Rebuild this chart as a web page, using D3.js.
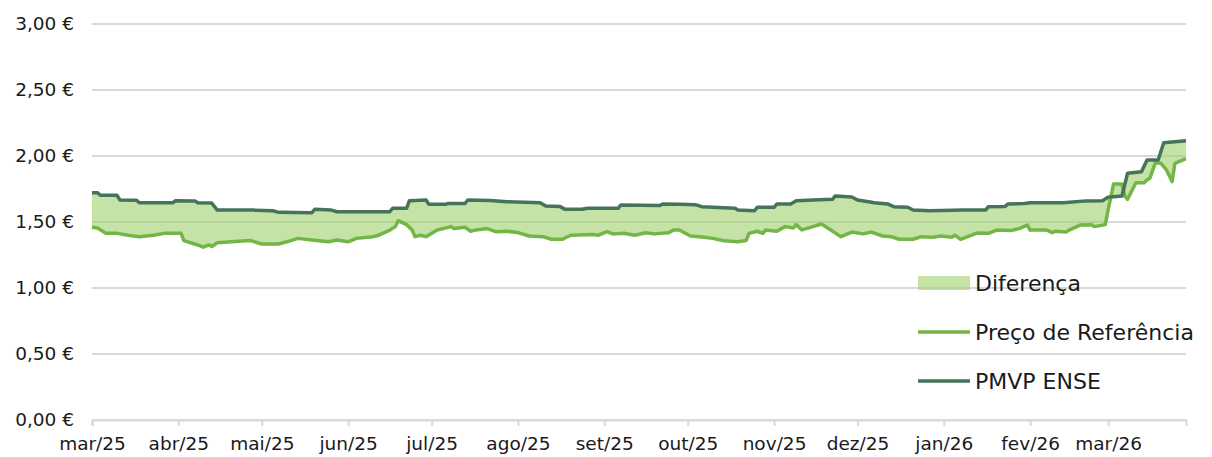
<!DOCTYPE html>
<html>
<head>
<meta charset="utf-8">
<script src="https://cdn.jsdelivr.net/npm/d3@7"></script>
<style>
  body { margin: 0; background: #fff; }
  text { font-family: "DejaVu Sans", sans-serif; fill: #1a1a1a; }
</style>
</head>
<body>
<svg id="chart" width="1212" height="457"></svg>
<script>
// PMVP ENSE (dark line)
const pmvpDates = ['2025-03-01','2025-03-03','2025-03-04','2025-03-10','2025-03-11','2025-03-17','2025-03-18','2025-03-30','2025-03-31','2025-04-07','2025-04-08','2025-04-13','2025-04-15','2025-04-28','2025-05-05','2025-05-07','2025-05-19','2025-05-20','2025-05-26','2025-05-28','2025-06-16','2025-06-17','2025-06-22','2025-06-23','2025-06-29','2025-06-30','2025-07-06','2025-07-07','2025-07-13','2025-07-14','2025-07-22','2025-07-28','2025-08-09','2025-08-11','2025-08-16','2025-08-18','2025-08-24','2025-08-26','2025-09-06','2025-09-07','2025-09-21','2025-09-22','2025-09-28','2025-10-04','2025-10-06','2025-10-18','2025-10-19','2025-10-25','2025-10-26','2025-11-01','2025-11-02','2025-11-07','2025-11-09','2025-11-15','2025-11-22','2025-11-23','2025-11-29','2025-12-01','2025-12-05','2025-12-07','2025-12-12','2025-12-14','2025-12-19','2025-12-21','2025-12-27','2026-01-08','2026-01-16','2026-01-17','2026-01-23','2026-01-24','2026-01-30','2026-02-01','2026-02-13','2026-02-21','2026-02-27','2026-03-01','2026-03-06','2026-03-08','2026-03-13','2026-03-15','2026-03-19','2026-03-21','2026-03-29']
const pmvpValues = [1.722,1.722,1.702,1.702,1.667,1.665,1.646,1.646,1.661,1.660,1.646,1.644,1.590,1.590,1.585,1.573,1.571,1.596,1.590,1.578,1.578,1.604,1.604,1.661,1.667,1.634,1.634,1.640,1.640,1.667,1.662,1.654,1.646,1.621,1.618,1.596,1.596,1.604,1.604,1.629,1.625,1.636,1.634,1.630,1.616,1.604,1.591,1.586,1.611,1.611,1.636,1.636,1.661,1.667,1.672,1.697,1.690,1.667,1.654,1.646,1.636,1.616,1.612,1.591,1.586,1.591,1.590,1.616,1.618,1.636,1.640,1.646,1.646,1.660,1.661,1.687,1.697,1.869,1.880,1.970,1.970,2.100,2.116]

// Preço de Referência (light line)
const refDates = ['2025-03-01','2025-03-03','2025-03-06','2025-03-10','2025-03-14','2025-03-18','2025-03-23','2025-03-27','2025-04-02','2025-04-03','2025-04-08','2025-04-10','2025-04-12','2025-04-13','2025-04-15','2025-04-20','2025-04-27','2025-05-01','2025-05-07','2025-05-10','2025-05-14','2025-05-19','2025-05-25','2025-05-28','2025-06-01','2025-06-04','2025-06-10','2025-06-12','2025-06-16','2025-06-18','2025-06-19','2025-06-22','2025-06-24','2025-06-25','2025-06-27','2025-06-29','2025-07-03','2025-07-08','2025-07-09','2025-07-13','2025-07-15','2025-07-17','2025-07-21','2025-07-24','2025-07-28','2025-08-01','2025-08-05','2025-08-10','2025-08-13','2025-08-17','2025-08-20','2025-08-28','2025-08-30','2025-09-02','2025-09-04','2025-09-08','2025-09-12','2025-09-16','2025-09-19','2025-09-24','2025-09-26','2025-09-28','2025-10-02','2025-10-07','2025-10-10','2025-10-14','2025-10-19','2025-10-22','2025-10-23','2025-10-26','2025-10-28','2025-10-29','2025-11-02','2025-11-05','2025-11-08','2025-11-09','2025-11-11','2025-11-15','2025-11-18','2025-11-21','2025-11-25','2025-11-29','2025-12-03','2025-12-06','2025-12-10','2025-12-13','2025-12-16','2025-12-21','2025-12-24','2025-12-28','2025-12-31','2026-01-04','2026-01-05','2026-01-07','2026-01-11','2026-01-13','2026-01-17','2026-01-20','2026-01-25','2026-01-28','2026-01-31','2026-02-01','2026-02-07','2026-02-09','2026-02-10','2026-02-14','2026-02-15','2026-02-19','2026-02-23','2026-02-24','2026-02-28','2026-03-01','2026-03-03','2026-03-06','2026-03-07','2026-03-08','2026-03-11','2026-03-14','2026-03-15','2026-03-16','2026-03-18','2026-03-20','2026-03-22','2026-03-24','2026-03-25','2026-03-29']
const refValues = [1.460,1.455,1.414,1.414,1.400,1.389,1.400,1.414,1.414,1.359,1.326,1.309,1.326,1.315,1.343,1.350,1.359,1.333,1.333,1.350,1.376,1.364,1.350,1.364,1.350,1.376,1.389,1.400,1.439,1.465,1.510,1.480,1.440,1.389,1.400,1.389,1.439,1.465,1.450,1.460,1.430,1.440,1.450,1.427,1.430,1.420,1.394,1.389,1.369,1.369,1.400,1.405,1.400,1.427,1.410,1.415,1.400,1.418,1.410,1.418,1.440,1.440,1.394,1.385,1.376,1.358,1.350,1.360,1.414,1.430,1.414,1.440,1.430,1.465,1.455,1.480,1.440,1.465,1.485,1.445,1.389,1.424,1.410,1.424,1.394,1.389,1.369,1.369,1.389,1.385,1.394,1.385,1.400,1.369,1.400,1.417,1.414,1.439,1.435,1.450,1.477,1.439,1.439,1.420,1.430,1.425,1.439,1.477,1.480,1.465,1.480,1.590,1.788,1.788,1.697,1.672,1.798,1.798,1.820,1.830,1.949,1.945,1.894,1.806,1.944,1.980]

const yTicks = [0, 0.5, 1, 1.5, 2, 2.5, 3]
const monthNames = ['jan','fev','mar','abr','mai','jun','jul','ago','set','out','nov','dez']
const legendLabels = ['Diferença', 'Preço de Referência', 'PMVP ENSE']

const colors = { pmvp: '#45745a', ref: '#74b646', fill: '#9fd06c', grid: '#d9d9d9' }

const parse = d3.utcParse('%Y-%m-%d')
const pmvp = pmvpDates.map((d, i) => [parse(d), pmvpValues[i]])
const ref = refDates.map((d, i) => [parse(d), refValues[i]])

const svg = d3.select('#chart')

const x = d3.scaleUtc()
    .domain([parse('2025-03-01'), parse('2026-03-29')])
    .range([92, 1186])
const y = d3.scaleLinear().domain([0, 3]).range([420, 24])

// gridlines
svg.append('g')
    .selectAll('line')
    .data(yTicks)
    .join('line')
    .attr('x1', 92)
    .attr('x2', 1186)
    .attr('y1', d => y(d))
    .attr('y2', d => y(d))
    .attr('stroke', colors.grid)
    .attr('stroke-width', 2)

// y labels
svg.append('g')
    .selectAll('text')
    .data(yTicks)
    .join('text')
    .attr('x', 74)
    .attr('y', d => y(d))
    .attr('dy', '0.35em')
    .attr('text-anchor', 'end')
    .style('font-size', '18.5px')
    .text(d => d.toFixed(2).replace('.', ',') + ' €')

// x axis
const monthTicks = d3.utcMonth.range(parse('2025-03-01'), parse('2026-03-02'))
const xAxis = d3.axisBottom(x)
    .tickValues(monthTicks)
    .tickSize(6)
    .tickPadding(11)
    .tickFormat(d => monthNames[d.getUTCMonth()] + '/' + String(d.getUTCFullYear()).slice(2))
const gx = svg.append('g').attr('transform', 'translate(0,420)').call(xAxis)
gx.select('.domain').attr('stroke', colors.grid).attr('stroke-width', 2)
gx.selectAll('.tick line').attr('stroke', colors.grid).attr('stroke-width', 2)
gx.selectAll('.tick text')
    .style('font-size', '18.5px')
    .attr('fill', '#1a1a1a')
    .style('font-family', '"DejaVu Sans", sans-serif')

// difference band
const line = d3.line().x(d => x(d[0])).y(d => y(d[1]))
svg.append('path')
    .attr('d', line(pmvp.concat(ref.slice().reverse())) + 'Z')
    .attr('fill', colors.fill)
    .attr('fill-opacity', 0.6)

svg.append('path')
    .attr('d', line(ref))
    .attr('fill', 'none')
    .attr('stroke', colors.ref)
    .attr('stroke-width', 3.5)
    .attr('stroke-linejoin', 'round')

svg.append('path')
    .attr('d', line(pmvp))
    .attr('fill', 'none')
    .attr('stroke', colors.pmvp)
    .attr('stroke-width', 3.5)
    .attr('stroke-linejoin', 'round')

// legend
const legend = svg.append('g').attr('transform', 'translate(918,283)')
legendLabels.forEach((label, i) => {
    const g = legend.append('g').attr('transform', `translate(0,${i * 49})`)
    if (i === 0) {
        g.append('rect').attr('x', 0).attr('y', -7).attr('width', 52).attr('height', 14)
            .attr('fill', colors.fill).attr('fill-opacity', 0.6)
    } else {
        g.append('line').attr('x1', 0).attr('x2', 52).attr('y1', 0).attr('y2', 0)
            .attr('stroke', i === 1 ? colors.ref : colors.pmvp).attr('stroke-width', 3.5)
    }
    g.append('text').attr('x', 57).attr('dy', '0.35em').style('font-size', '22px').text(label)
})
</script>
</body>
</html>
